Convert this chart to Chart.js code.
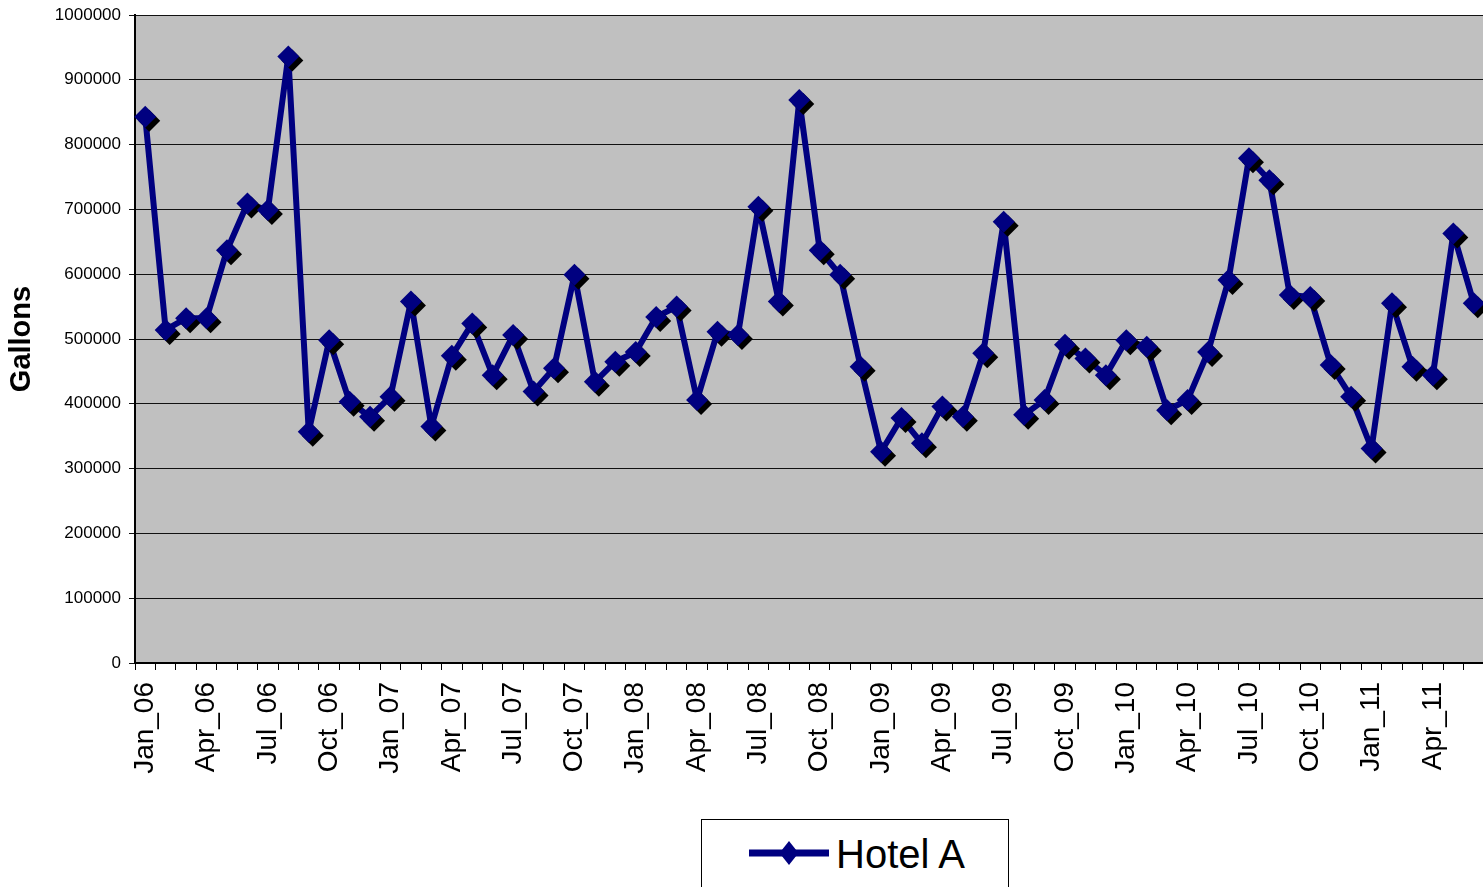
<!DOCTYPE html>
<html>
<head>
<meta charset="utf-8">
<script src="https://cdn.jsdelivr.net/npm/chart.js@4.4.1/dist/chart.umd.min.js"></script>
<style>
  html, body { margin: 0; padding: 0; background: #fff; overflow: hidden; }
  #wrap { position: relative; width: 1495px; height: 887px; }
  #chart { display: block; }
  #legend { position: absolute; left: 701px; top: 819px; }
</style>
</head>
<body>
<div id="wrap">
  <canvas id="chart" width="1495" height="887"></canvas>
  <svg id="legend" width="309" height="68" xmlns="http://www.w3.org/2000/svg">
    <rect x="0.5" y="0.5" width="307" height="80" fill="#fff" stroke="#000" stroke-width="1"/>
    <rect x="48" y="30.5" width="80" height="7" fill="#000080"/>
    <polygon points="88,22 97.5,34 88,46 78.5,34" fill="#000080"/>
    <text x="135" y="49" font-family="'Liberation Sans', Arial, sans-serif" font-size="40" fill="#000">Hotel A</text>
  </svg>
</div>
<script>
  // Monthly water use, Jan 2006 - Jun 2011
  const months = ['Jan', 'Feb', 'Mar', 'Apr', 'May', 'Jun', 'Jul', 'Aug', 'Sep', 'Oct', 'Nov', 'Dec'];
  const years = ['06', '07', '08', '09', '10', '11'];
  const categories = [];
  years.forEach(y => months.forEach(m => categories.push(m + '_' + y)));
  categories.length = 66;

  const hotelA = [
    843000, 514000, 532000, 532000, 637000, 709000, 699000, 936000, 357000, 498000, 403000, 380000,
    411000, 558000, 365000, 474000, 524000, 444000, 506000, 419000, 455000, 599000, 434000, 465000,
    480000, 534000, 550000, 406000, 511000, 506000, 704000, 558000, 869000, 637000, 599000, 457000,
    326000, 378000, 339000, 396000, 380000, 478000, 681000, 383000, 406000, 491000, 470000, 444000,
    498000, 488000, 390000, 406000, 480000, 591000, 779000, 745000, 568000, 565000, 460000, 411000,
    331000, 555000, 457000, 444000, 663000, 555000
  ];

  const yTicks = [0, 100000, 200000, 300000, 400000, 500000, 600000, 700000, 800000, 900000, 1000000];

  Chart.defaults.font.family = '"Liberation Sans", Arial, sans-serif';
  Chart.defaults.color = '#000';

  const plotBg = {
    id: 'plotBg',
    beforeDraw(chart) {
      const a = chart.chartArea, ctx = chart.ctx;
      ctx.save();
      ctx.fillStyle = '#C0C0C0';
      ctx.fillRect(a.left, a.top, a.right - a.left, a.bottom - a.top);
      ctx.restore();
    }
  };

  // black drop shadow under the diamond markers only
  const markerShadow = {
    id: 'markerShadow',
    beforeDatasetDraw(chart, args) {
      if (args.index !== 1) return;
      const ctx = chart.ctx;
      ctx.save();
      ctx.shadowColor = '#000';
      ctx.shadowOffsetX = 4;
      ctx.shadowOffsetY = 4;
      ctx.shadowBlur = 0;
    },
    afterDatasetDraw(chart, args) {
      if (args.index !== 1) return;
      chart.ctx.restore();
    }
  };

  new Chart(document.getElementById('chart'), {
    type: 'line',
    data: {
      labels: categories,
      datasets: [{
        label: 'Hotel A',
        data: hotelA,
        borderColor: '#000080',
        borderWidth: 6,
        borderJoinStyle: 'bevel',
        pointRadius: 0,
        tension: 0,
        order: 1
      }, {
        label: 'Hotel A markers',
        data: hotelA,
        showLine: false,
        pointStyle: 'rectRot',
        pointRadius: 11,
        pointHoverRadius: 11,
        pointBackgroundColor: '#000080',
        pointBorderWidth: 0,
        clip: false,
        order: 0
      }]
    },
    options: {
      responsive: false,
      animation: false,
      layout: { padding: { left: 0, top: 15, right: 0, bottom: 0 } },
      plugins: {
        legend: { display: false },
        tooltip: { enabled: false }
      },
      scales: {
        x: {
          offset: true,
          grid: { offset: true, drawOnChartArea: false, drawTicks: true, tickLength: 7, color: '#000' },
          border: { color: '#000', width: 2 },
          ticks: {
            autoSkip: false,
            minRotation: 90,
            maxRotation: 90,
            padding: 12,
            font: { size: 28 },
            callback: (v, i) => (i % 3 === 0 ? categories[i] : '')
          },
          afterFit: s => { s.height = 224; s.paddingLeft = 0; s.paddingRight = 0; }
        },
        y: {
          min: 0,
          max: 1000000,
          afterBuildTicks: s => { s.ticks = yTicks.map(v => ({ value: v })); },
          grid: { color: '#111', lineWidth: 1, tickLength: 6 },
          border: { color: '#000', width: 2 },
          ticks: { padding: 8, font: { size: 17 }, callback: v => String(v) },
          title: {
            display: true,
            text: 'Gallons',
            font: { size: 29, weight: 'bold' },
            padding: { top: 5, bottom: 0 }
          },
          afterFit: s => { s.width = 135; s.paddingTop = 0; s.paddingBottom = 0; }
        }
      }
    },
    plugins: [plotBg, markerShadow]
  });
</script>
</body>
</html>
